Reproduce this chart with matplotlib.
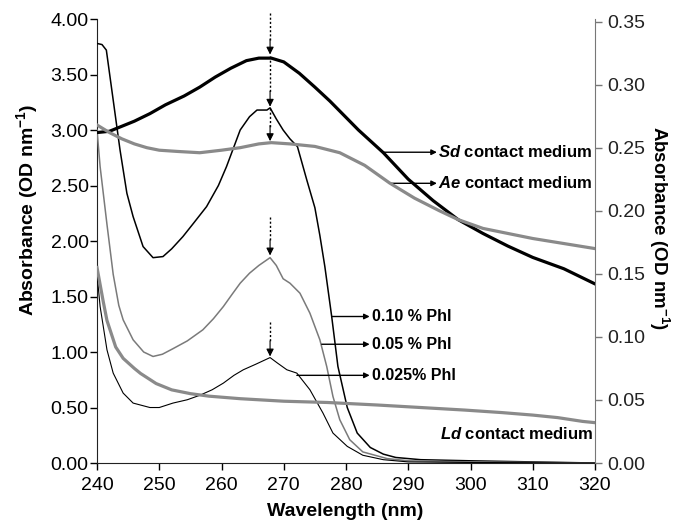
import matplotlib
matplotlib.use('Agg')
import matplotlib.pyplot as plt
from matplotlib.ticker import FormatStrFormatter

plt.rcParams['font.family'] = ['Liberation Sans', 'DejaVu Sans']
plt.rcParams['mathtext.fontset'] = 'custom'
plt.rcParams['mathtext.rm'] = 'Liberation Sans'
plt.rcParams['mathtext.it'] = 'Liberation Sans:italic'
plt.rcParams['mathtext.bf'] = 'Liberation Sans:bold'
try:
    plt.rcParams['mathtext.bfit'] = 'Liberation Sans:bold:italic'
except KeyError:
    pass

# --- data ---
# contact media (right axis, OD nm-1)
sd_wl = [240, 242, 244, 246, 248.5, 251, 254, 256.5, 259, 261.5, 264, 266, 268, 270,
         272.5, 275, 277.4, 279, 282, 286, 290, 294, 298, 302, 306, 310, 315, 320]
sd_abs = [0.262, 0.263, 0.267, 0.271, 0.277, 0.284, 0.291, 0.298, 0.306, 0.313, 0.319,
          0.321, 0.321, 0.318, 0.309, 0.298, 0.287, 0.279, 0.264, 0.246, 0.225, 0.208,
          0.193, 0.182, 0.172, 0.163, 0.154, 0.142]

ae_wl = [240, 242, 244, 246, 248, 250, 253, 256.5, 260, 263, 266, 268, 271, 275, 279,
         283, 287, 291, 295, 298, 302, 306, 310, 315, 320]
ae_abs = [0.268, 0.262, 0.257, 0.253, 0.250, 0.248, 0.247, 0.246, 0.248, 0.250, 0.253,
          0.254, 0.253, 0.251, 0.246, 0.236, 0.222, 0.210, 0.200, 0.193, 0.186, 0.182,
          0.178, 0.174, 0.170]

ld_wl = [240, 241, 241.6, 243, 244.2, 246, 247, 249.5, 252, 255, 258, 263, 270, 277,
         285, 292, 299, 305, 310, 314, 318, 320]
ld_abs = [0.155, 0.128, 0.113, 0.092, 0.083, 0.075, 0.071, 0.063, 0.058, 0.055, 0.053,
          0.051, 0.049, 0.048, 0.046, 0.044, 0.042, 0.040, 0.038, 0.036, 0.033, 0.032]

# Phl solutions (left axis, OD nm-1)
p10_wl = [240, 240.8, 241.5, 242.6, 243.7, 244.8, 245.8, 247.4, 249, 250.6, 252, 253.8,
          255.5, 257.6, 259.5, 260.8, 262, 263, 264.5, 265.7, 267.3, 267.8, 268.8, 269.9,
          271, 272.2, 273.7, 275, 275.8, 276.6, 277.7, 278.7, 280.2, 281.8, 283.9, 286,
          288, 292, 300, 310, 320]
p10_abs = [3.78, 3.77, 3.72, 3.27, 2.82, 2.43, 2.22, 1.95, 1.85, 1.86, 1.93, 2.04, 2.16,
           2.31, 2.50, 2.67, 2.85, 3.00, 3.12, 3.18, 3.18, 3.20, 3.10, 3.00, 2.92, 2.85,
           2.55, 2.30, 2.05, 1.77, 1.32, 0.87, 0.50, 0.27, 0.14, 0.08, 0.05, 0.03, 0.02,
           0.01, 0.0]

p05_wl = [240, 240.5, 241.6, 242.6, 243.5, 244.2, 245.8, 247.5, 249, 250.5, 252.2, 254.5,
          257, 258.7, 260.3, 261.7, 263, 264.5, 266, 267.8, 268.8, 269.9, 271, 272.6,
          274.2, 275.8, 276.9, 277.9, 279, 280.6, 282.7, 286.6, 290, 300, 310, 320]
p05_abs = [3.00, 2.67, 2.15, 1.70, 1.42, 1.29, 1.11, 1.00, 0.96, 0.98, 1.03, 1.10, 1.20,
           1.30, 1.41, 1.52, 1.62, 1.71, 1.78, 1.85, 1.78, 1.66, 1.62, 1.53, 1.35, 1.11,
           0.87, 0.60, 0.39, 0.21, 0.10, 0.04, 0.02, 0.01, 0.005, 0.0]

p025_wl = [240, 240.5, 241.6, 242.6, 244.2, 245.8, 248.5, 250, 252.2, 254.5, 256.5, 258.5,
           260.3, 262, 263.5, 265.5, 267.8, 269, 270.5, 272.1, 274.2, 276.3, 277.9, 280.2,
           282.7, 286, 290, 300, 320]
p025_abs = [1.70, 1.41, 1.02, 0.81, 0.63, 0.54, 0.50, 0.50, 0.54, 0.57, 0.61, 0.66, 0.72,
            0.79, 0.84, 0.89, 0.95, 0.90, 0.84, 0.81, 0.66, 0.45, 0.27, 0.15, 0.07, 0.03,
            0.01, 0.005, 0.0]

peak_wl = 267.8
thick_grey = '#8a8a8a'
thin_grey = '#7a7a7a'

fig = plt.figure(figsize=(6.76, 5.27), dpi=100)
ax = fig.add_axes([0.1435, 0.1214, 0.7367, 0.8425])
ax2 = ax.twinx()

ax.plot(p10_wl, p10_abs, color='black', lw=1.1, zorder=3)
ax.plot(p05_wl, p05_abs, color=thin_grey, lw=1.1, zorder=3)
ax.plot(p025_wl, p025_abs, color='black', lw=0.8, zorder=3)

ax2.plot(sd_wl, sd_abs, color='black', lw=2.3)
ax2.plot(ae_wl, ae_abs, color=thick_grey, lw=2.3)
ax2.plot(ld_wl, ld_abs, color=thick_grey, lw=2.3)

ax.set_xlim(240, 320)
ax.set_ylim(0, 4.0)
ax2.set_ylim(0, 0.352)
ax.set_xticks(range(240, 321, 10))
ax.set_yticks([i * 0.5 for i in range(9)])
ax2.set_yticks([i * 0.05 for i in range(8)])
ax.yaxis.set_major_formatter(FormatStrFormatter('%.2f'))
ax2.yaxis.set_major_formatter(FormatStrFormatter('%.2f'))

for a in (ax, ax2):
    a.spines['top'].set_visible(False)
    a.tick_params(labelsize=14, length=5, width=1)
ax.tick_params(axis='y', pad=1)
ax.tick_params(axis='x', pad=5)
ax2.tick_params(axis='y', pad=4)
ax.spines['right'].set_visible(False)
ax2.spines['left'].set_visible(False)
ax2.spines['bottom'].set_visible(False)
ax2.spines['right'].set_color('#777777')
ax2.tick_params(axis='y', colors='#777777', labelcolor='#222222')
ax.spines['left'].set_color('#222222')
ax.spines['bottom'].set_color('#222222')

ax.set_xlabel('Wavelength (nm)', fontsize=14, fontweight='bold', va='center')
ax.xaxis.set_label_coords(0.498, -0.110)
ax.set_ylabel('Absorbance (OD nm$^{\\mathbf{-1}}$)', fontsize=14, fontweight='bold',
              va='center')
ax.yaxis.set_label_coords(-0.141, 0.57)
ax2.set_ylabel('Absorbance (OD nm$^{\\mathbf{-1}}$)', fontsize=13.5, fontweight='bold',
               rotation=-90, va='center')
ax2.yaxis.set_label_coords(1.128, 0.53)

# dotted arrows marking the 268 nm peak
arrow_spans = [(4.05, 3.68), (3.67, 3.21), (3.20, 2.90), (2.22, 1.87), (1.27, 0.96)]
for y0, y1 in arrow_spans:
    ax.plot([peak_wl, peak_wl], [y0, y1 + 0.13], color='black', lw=1, ls=(0, (1.5, 1.5)),
            clip_on=False, zorder=5)
    ax.annotate('', xy=(peak_wl, y1), xytext=(peak_wl, y1 + 0.14),
                arrowprops=dict(arrowstyle='-|>', color='black', lw=0.8,
                                mutation_scale=11, shrinkA=0, shrinkB=0),
                annotation_clip=False, zorder=5)

# labels with pointer arrows
med_kw = dict(fontsize=12, fontweight='bold', va='center', ha='left')
phl_kw = dict(fontsize=11.5, fontweight='bold', va='center', ha='left')
arr_kw = dict(arrowstyle='-|>', color='black', lw=1, mutation_scale=8, shrinkA=0, shrinkB=0)

ax.annotate('', xy=(294.6, 2.80), xytext=(286.0, 2.80), arrowprops=arr_kw)
ax.text(294.7, 2.80, '$\\mathbfit{Sd}$ contact medium', **med_kw)
ax.annotate('', xy=(294.6, 2.52), xytext=(287.1, 2.52), arrowprops=arr_kw)
ax.text(294.7, 2.52, '$\\mathbfit{Ae}$ contact medium', **med_kw)

ax.annotate('', xy=(283.8, 1.32), xytext=(277.7, 1.32), arrowprops=arr_kw)
ax.text(284.2, 1.32, '0.10 % Phl', **phl_kw)
ax.annotate('', xy=(283.8, 1.07), xytext=(276.1, 1.07), arrowprops=arr_kw)
ax.text(284.2, 1.07, '0.05 % Phl', **phl_kw)
ax.annotate('', xy=(283.8, 0.79), xytext=(272.1, 0.79), arrowprops=arr_kw)
ax.text(284.2, 0.79, '0.025% Phl', **phl_kw)

ax.text(319.7, 0.26, '$\\mathbfit{Ld}$ contact medium', fontsize=12, fontweight='bold',
        va='center', ha='right')

fig.savefig('out.png', dpi=100)
